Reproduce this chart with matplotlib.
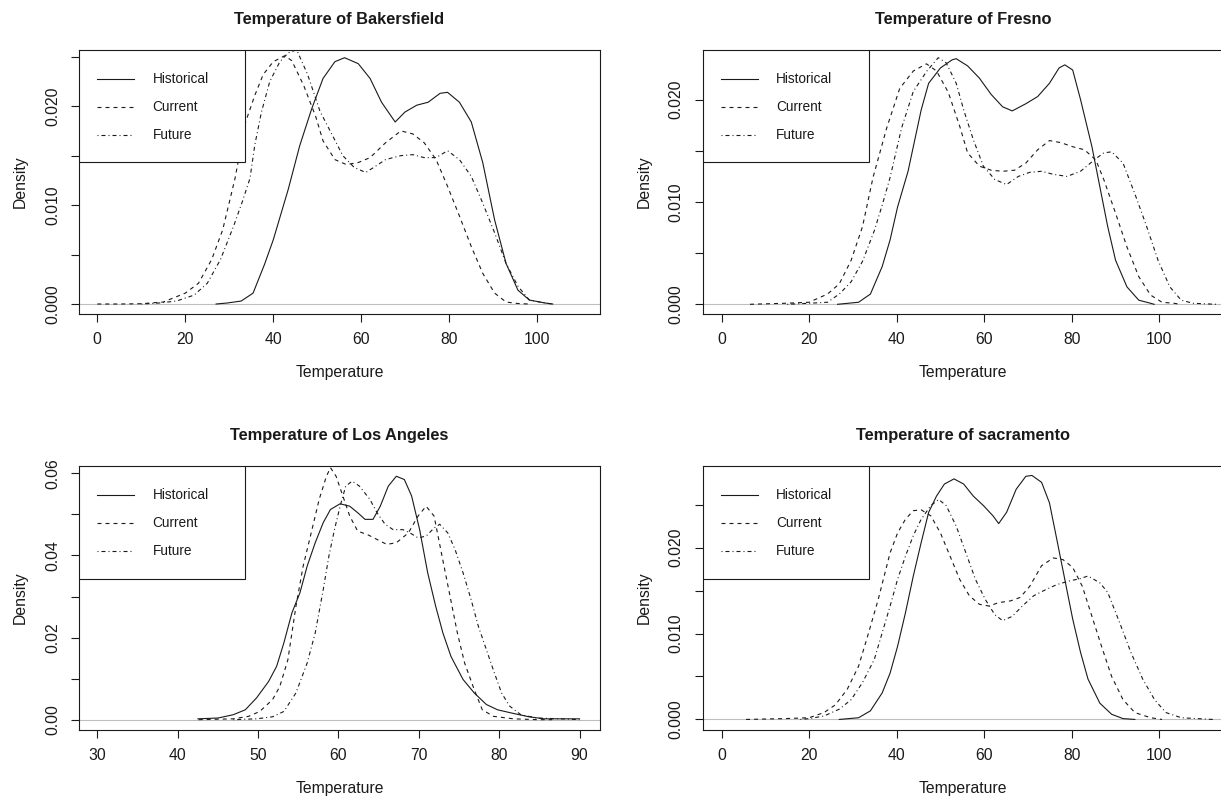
import matplotlib
matplotlib.use('Agg')
import matplotlib.pyplot as plt
from matplotlib.patches import Rectangle

plt.rcParams['font.family'] = ['Liberation Sans', 'DejaVu Sans']

# Bakersfield
bak_hist_t = [27, 29.5, 32.7, 35.4, 38, 40, 43.4, 46, 48.7, 51.3, 54, 56.2, 59.3, 62, 64.6, 67.7, 69.9,
              72.6, 75.2, 77.9, 79.6, 82.3, 85, 87.6, 90.3, 92.9, 95.6, 98.2, 101.8, 103.5]
bak_hist_d = [0, 0.0001, 0.0003, 0.0011, 0.004, 0.0065, 0.0116, 0.016, 0.0197, 0.0228, 0.0245, 0.0249,
              0.0243, 0.0228, 0.0204, 0.0184, 0.0194, 0.0201, 0.0204, 0.0213, 0.0214, 0.0204, 0.0184,
              0.0143, 0.0085, 0.0041, 0.0014, 0.0004, 0.0001, 0]
bak_curr_t = [0, 5, 10, 15, 20, 23, 26, 28.5, 31.3, 33.7, 35.8, 37.7, 40, 42.6, 44.2, 46.9, 49.6, 51.3,
              54, 56.6, 59.3, 62, 65.5, 69, 71.7, 74.3, 77, 79.6, 82.3, 85, 87.6, 90.3, 92.9, 95.6, 98]
bak_curr_d = [0, 0, 0.00003, 0.0002, 0.0011, 0.0021, 0.0045, 0.0075, 0.0127, 0.0184, 0.0211, 0.0232,
              0.0245, 0.0251, 0.0246, 0.0221, 0.019, 0.0165, 0.0146, 0.0141, 0.0143, 0.0148, 0.0163,
              0.0175, 0.0172, 0.0163, 0.0146, 0.0119, 0.0089, 0.0058, 0.0031, 0.0011, 0.0002, 0.00005, 0]
bak_fut_t = [10, 14, 18, 22, 25, 28, 31, 33, 34.7, 35.8, 37.3, 39.2, 41.5, 43.4, 45.3, 47.8, 50.6, 52.8,
             55.8, 58.4, 61, 62.8, 65.5, 69, 71.7, 74.3, 77, 79.6, 82.3, 85, 87.6, 90.3, 92.9, 95.6,
             98.2, 101.8, 103.5]
bak_fut_d = [0, 0.0001, 0.0003, 0.0009, 0.0021, 0.0045, 0.0079, 0.0104, 0.0127, 0.0161, 0.0194, 0.0225,
             0.0245, 0.0254, 0.0257, 0.0232, 0.0195, 0.0176, 0.015, 0.0138, 0.0133, 0.0138, 0.0146,
             0.015, 0.0151, 0.0148, 0.0148, 0.0155, 0.0146, 0.0129, 0.0102, 0.0072, 0.0041, 0.0018,
             0.0004, 0.0001, 0]

# Fresno
fre_hist_t = [26.5, 31.3, 34, 36.7, 38.5, 40.2, 42.6, 45.6, 47.3, 50, 52.7, 53.6, 56.2, 58.9, 61.6, 64.2,
              66.4, 69.5, 72.2, 74.9, 77.1, 78.4, 80.2, 82, 84.6, 86.4, 88.2, 90, 92.6, 95.3, 98, 98.8]
fre_hist_d = [0, 0.0002, 0.001, 0.0037, 0.0063, 0.0095, 0.013, 0.019, 0.0216, 0.0231, 0.0239, 0.024,
              0.0233, 0.0221, 0.0205, 0.0193, 0.0189, 0.0196, 0.0203, 0.0216, 0.0231, 0.0234, 0.0229,
              0.020, 0.0154, 0.0115, 0.0076, 0.0043, 0.0017, 0.0004, 0.0001, 0]
fre_curr_t = [6.5, 14.5, 20, 24.2, 26.9, 29.6, 32.2, 34.6, 37.7, 40.7, 43.8, 46.8, 49.1, 51.8, 54.4, 56.2,
              58.9, 61.6, 64.2, 66.9, 69.5, 72.2, 74.9, 77.5, 80.2, 82.9, 85.5, 87.3, 90, 92.6, 95.3, 98,
              100.6, 103.3, 105]
fre_curr_d = [0, 0.0001, 0.0002, 0.001, 0.002, 0.0043, 0.0076, 0.0124, 0.0172, 0.0211, 0.0228, 0.0235,
              0.0228, 0.0207, 0.0174, 0.0148, 0.0135, 0.0131, 0.013, 0.0131, 0.0138, 0.0151, 0.016,
              0.0158, 0.0154, 0.0151, 0.0141, 0.0122, 0.0089, 0.0056, 0.0027, 0.0009, 0.0002, 0.0001, 0]
fre_fut_t = [15, 20, 24.2, 26.9, 29.6, 32.2, 34.9, 36.7, 38.5, 41.1, 43.8, 46.9, 49.5, 51.3, 53.6, 55.3,
             57.5, 59.8, 62.4, 65.1, 67.8, 70.4, 73.1, 75.8, 78.9, 82, 85.1, 87.3, 89.1, 91.7, 94.4,
             97.1, 99.7, 102.4, 105, 107.7, 113]
fre_fut_d = [0, 0.0001, 0.0002, 0.001, 0.0022, 0.0042, 0.0072, 0.0097, 0.0124, 0.0172, 0.0208, 0.0228,
             0.0241, 0.0236, 0.0216, 0.019, 0.0161, 0.0135, 0.0122, 0.0117, 0.0125, 0.0129, 0.013,
             0.0127, 0.0125, 0.013, 0.0141, 0.0148, 0.0149, 0.0138, 0.0108, 0.0076, 0.0043, 0.0017,
             0.0004, 0.0001, 0]

# Los Angeles
la_hist_t = [42.5, 45, 46.9, 48.4, 49.8, 51.3, 52.3, 53.2, 54.2, 55.2, 56.1, 57.1, 58.1, 59, 60.2, 61.4,
             62.4, 63.3, 64.3, 65.2, 66.2, 67.2, 68.2, 69.1, 70.1, 71.1, 72.1, 73, 74, 75.5, 76.9, 78.4,
             79.8, 81.8, 83.7, 85.6, 90]
la_hist_d = [0.0002, 0.0004, 0.0012, 0.0024, 0.0053, 0.0093, 0.013, 0.0187, 0.026, 0.0309, 0.0374,
             0.0431, 0.048, 0.0512, 0.0526, 0.052, 0.0504, 0.0488, 0.0488, 0.052, 0.0569, 0.0593, 0.0585,
             0.0545, 0.0463, 0.0358, 0.0276, 0.0211, 0.0154, 0.0098, 0.0065, 0.0037, 0.0024, 0.0015,
             0.0007, 0.0002, 0.0002]
la_curr_t = [42.6, 46.9, 48.8, 50.2, 51.8, 52.7, 53.7, 54.7, 55.6, 56.6, 57.6, 58.5, 59, 59.7, 60.4, 61.4,
             62.4, 63.6, 64.8, 66, 67.2, 68.7, 69.9, 70.9, 71.9, 72.8, 73.8, 74.8, 75.7, 76.9, 77.9,
             79.3, 81.8, 84.7, 86.6]
la_curr_d = [0, 0.0002, 0.0008, 0.002, 0.0049, 0.0081, 0.0146, 0.0276, 0.0374, 0.0455, 0.0537, 0.0593,
             0.0614, 0.0593, 0.0553, 0.0496, 0.0459, 0.0451, 0.0439, 0.0427, 0.0431, 0.0455, 0.0496,
             0.052, 0.0496, 0.0407, 0.0309, 0.0211, 0.0138, 0.0073, 0.0024, 0.0008, 0.0002, 0, 0]
la_fut_t = [46.9, 49.8, 51.8, 53.2, 54.7, 56.1, 57.1, 58.1, 58.8, 59.5, 60.2, 60.9, 61.7, 62.6, 63.9, 64.8,
            65.8, 66.8, 68, 68.9, 69.9, 70.9, 71.9, 72.6, 73.6, 74.5, 75.5, 76.5, 77.4, 78.4, 79.4, 80.3,
            81.3, 82.7, 84.7, 87.6, 90]
la_fut_d = [0, 0.0002, 0.0007, 0.002, 0.0065, 0.0138, 0.0211, 0.0317, 0.0398, 0.0463, 0.052, 0.0569,
            0.0581, 0.0569, 0.0537, 0.0504, 0.0476, 0.0463, 0.0463, 0.0455, 0.0443, 0.0447, 0.0467,
            0.0476, 0.0455, 0.0415, 0.0358, 0.0293, 0.0228, 0.0171, 0.0114, 0.0065, 0.0033, 0.0012,
            0.0004, 0.0002, 0]

# Sacramento
sac_hist_t = [26.9, 31.3, 34, 36.7, 38.5, 40.2, 42, 43.8, 45.6, 47.3, 49.1, 50.9, 53.1, 55.3, 57.5, 59.8,
              62, 63.3, 65.1, 67.3, 69.5, 70.9, 73.1, 74.9, 76.6, 78.4, 80.2, 82, 83.7, 86.4, 89.1, 91.7,
              94.4]
sac_hist_d = [0, 0.0002, 0.001, 0.0031, 0.0054, 0.0085, 0.0124, 0.0167, 0.0206, 0.0241, 0.026, 0.0274,
              0.028, 0.0274, 0.026, 0.0249, 0.0237, 0.0228, 0.0241, 0.0268, 0.0283, 0.0284, 0.0276,
              0.0252, 0.0209, 0.0163, 0.0117, 0.0078, 0.0047, 0.0019, 0.0006, 0.0001, 0]
sac_curr_t = [5.6, 14.5, 20, 23.4, 26, 28.7, 31.3, 33.6, 35.8, 38.5, 40.2, 42, 43.8, 45.6, 47.8, 50, 52.2,
              54.4, 56.6, 58.9, 61.1, 63.3, 66, 68.2, 70.4, 73.1, 75.8, 78, 80.2, 82.4, 84.6, 86.8, 89.1,
              91.7, 94.4, 98, 100.6]
sac_curr_d = [0, 0.0001, 0.0002, 0.0008, 0.0017, 0.0035, 0.0062, 0.0101, 0.014, 0.0194, 0.0217, 0.0233,
              0.0243, 0.0244, 0.0237, 0.0217, 0.019, 0.0163, 0.0144, 0.0134, 0.0132, 0.0136, 0.0138,
              0.0142, 0.0155, 0.0179, 0.0188, 0.0186, 0.0177, 0.0155, 0.012, 0.0085, 0.005, 0.0023,
              0.0008, 0.0002, 0]
sac_fut_t = [18, 20, 23.4, 26.9, 29.6, 32.2, 34.9, 36.7, 38.5, 40.2, 42, 43.8, 45.6, 47.8, 49.6, 51.3,
             53.6, 55.8, 58, 60.2, 62.4, 64.2, 66.4, 68.7, 71.3, 74, 76.6, 79.3, 82, 83.7, 86.4, 88.2,
             90.9, 93.5, 96.2, 98.9, 101.5, 105, 112.2]
sac_fut_d = [0, 0.0001, 0.0004, 0.0012, 0.0023, 0.0043, 0.007, 0.0101, 0.0132, 0.0163, 0.019, 0.0214,
             0.0233, 0.0249, 0.0256, 0.0249, 0.0225, 0.0194, 0.0163, 0.014, 0.0122, 0.0115, 0.012,
             0.0132, 0.0144, 0.0151, 0.0157, 0.0161, 0.0164, 0.0167, 0.0159, 0.0148, 0.0113, 0.0078,
             0.0047, 0.0023, 0.0008, 0.0002, 0]

series_labels = ['Historical', 'Current', 'Future']
line_styles = ['-', (0, (3.6, 3.6)), (0, (0.9, 2.7, 3.6, 2.7))]
INK = '#1a1a1a'


def draw_legend(ax):
    box = Rectangle((0, 0.5727), 0.3192, 0.4273, transform=ax.transAxes, facecolor='white',
                    edgecolor=INK, lw=0.8, zorder=5)
    ax.add_patch(box)
    for i, (lab, ls) in enumerate(zip(series_labels, line_styles)):
        y = 1 - (0.110 + 0.107 * i)
        ax.plot([0.0351, 0.1058], [y, y], transform=ax.transAxes, color=INK, lw=0.8, ls=ls, zorder=6)
        ax.text(0.1413, y, lab, transform=ax.transAxes, fontsize=9.8, va='center', ha='left',
                color=INK, zorder=6)


def draw_panel(ax, title, curves, xlim, ylim, xticks, yticks, ylabels):
    ax.axhline(0, color='#bebebe', lw=0.8, zorder=1)
    for (t, d), ls in zip(curves, line_styles):
        ax.plot(t, d, color=INK, lw=0.8, ls=ls, zorder=2)
    draw_legend(ax)
    ax.set_xlim(*xlim)
    ax.set_ylim(*ylim)
    ax.set_xticks(xticks)
    ax.set_yticks(yticks, labels=ylabels, rotation=90, va='center')
    ax.tick_params(direction='out', length=5.5, width=0.8, color=INK, labelcolor=INK,
                   labelsize=11.3, pad=8)
    for s in ax.spines.values():
        s.set_linewidth(0.8)
        s.set_color(INK)
    ax.set_title(title, fontsize=11.8, fontweight='bold', pad=18.7, color=INK)
    ax.set_xlabel('Temperature', fontsize=11.3, labelpad=13, color=INK)
    ax.set_ylabel('Density', fontsize=11.3, labelpad=12.5, color=INK)


fig = plt.figure(figsize=(12.21, 7.99), dpi=100)
ax1 = fig.add_axes([0.06470, 0.60763, 0.42670, 0.33041])
ax2 = fig.add_axes([0.57535, 0.60763, 0.42670, 0.33041])
ax3 = fig.add_axes([0.06470, 0.08698, 0.42670, 0.32979])
ax4 = fig.add_axes([0.57535, 0.08698, 0.42670, 0.32979])

ticks3 = [0, 0.005, 0.010, 0.015, 0.020, 0.025]
labels3 = ['0.000', '', '0.010', '', '0.020', '']

draw_panel(ax1, 'Temperature of Bakersfield',
           [(bak_hist_t, bak_hist_d), (bak_curr_t, bak_curr_d), (bak_fut_t, bak_fut_d)],
           (-4.16, 114.25), (-0.00096, 0.02573), range(0, 101, 20), ticks3, labels3)
draw_panel(ax2, 'Temperature of Fresno',
           [(fre_hist_t, fre_hist_d), (fre_curr_t, fre_curr_d), (fre_fut_t, fre_fut_d)],
           (-4.35, 114.65), (-0.0009, 0.0249), range(0, 101, 20), ticks3[:5], labels3[:5])
draw_panel(ax3, 'Temperature of Los Angeles',
           [(la_hist_t, la_hist_d), (la_curr_t, la_curr_d), (la_fut_t, la_fut_d)],
           (27.7, 92.55), (-0.0024, 0.0618), range(30, 91, 10),
           [0, 0.01, 0.02, 0.03, 0.04, 0.05, 0.06], ['0.00', '', '0.02', '', '0.04', '', '0.06'])
draw_panel(ax4, 'Temperature of sacramento',
           [(sac_hist_t, sac_hist_d), (sac_curr_t, sac_curr_d), (sac_fut_t, sac_fut_d)],
           (-4.35, 114.65), (-0.00117, 0.0295), range(0, 101, 20), ticks3, labels3)

fig.savefig('out.png', dpi=100)
